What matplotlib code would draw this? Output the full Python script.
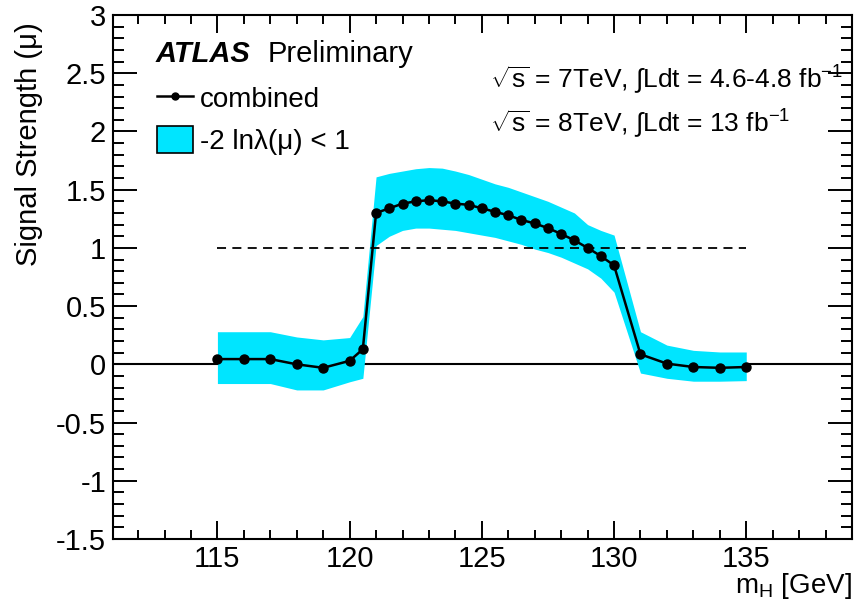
import matplotlib

matplotlib.use("Agg")
import matplotlib.pyplot as plt
from matplotlib.lines import Line2D
from matplotlib.patches import Patch
from matplotlib.ticker import MultipleLocator

# Higgs mass hypotheses and best-fit signal strength
mass = [115, 116, 117, 118, 119, 120,
        120.5, 121, 121.5, 122, 122.5, 123, 123.5, 124, 124.5, 125,
        125.5, 126, 126.5, 127, 127.5, 128, 128.5, 129, 129.5, 130,
        131, 132, 133, 134, 135]
mu = [0.045, 0.045, 0.045, 0.0, -0.03, 0.03,
      0.13, 1.30, 1.34, 1.38, 1.40, 1.41, 1.40, 1.38, 1.37, 1.34,
      1.31, 1.28, 1.24, 1.21, 1.17, 1.12, 1.065, 1.00, 0.93, 0.85,
      0.086, 0.006, -0.023, -0.03, -0.023]

# -2 ln lambda(mu) < 1 interval
mu_hi = [0.28, 0.28, 0.28, 0.235, 0.21, 0.23,
         0.41, 1.61, 1.64, 1.66, 1.68, 1.69, 1.685, 1.66, 1.63, 1.59,
         1.55, 1.52, 1.48, 1.44, 1.40, 1.35, 1.30, 1.20, 1.15, 1.11,
         0.28, 0.165, 0.12, 0.106, 0.106]
mu_lo = [-0.165, -0.165, -0.165, -0.22, -0.22, -0.15,
         -0.12, 1.02, 1.10, 1.15, 1.17, 1.17, 1.16, 1.15, 1.13, 1.11,
         1.09, 1.06, 1.03, 0.99, 0.96, 0.92, 0.87, 0.82, 0.74, 0.62,
         -0.075, -0.12, -0.145, -0.145, -0.14]

x_ticks = [115, 120, 125, 130, 135]
y_ticks = [-1.5, -1, -0.5, 0, 0.5, 1, 1.5, 2, 2.5, 3]
y_tick_labels = ["-1.5", "-1", "-0.5", "0", "0.5", "1", "1.5", "2", "2.5", "3"]

BAND = "#00e5ff"

plt.rcParams["font.family"] = ["Liberation Sans", "DejaVu Sans"]
plt.rcParams["mathtext.fontset"] = "custom"
plt.rcParams["mathtext.rm"] = "Liberation Sans"
plt.rcParams["mathtext.it"] = "Liberation Sans:italic"
plt.rcParams["mathtext.bf"] = "Liberation Sans:bold"

fig = plt.figure(figsize=(8.65, 6.01), dpi=100)
ax = fig.add_axes([0.1306, 0.1032, 0.8544, 0.8718])

ax.axhline(0, color="black", lw=1.5, zorder=1)
ax.fill_between(mass, mu_lo, mu_hi, color=BAND, lw=0, zorder=2)
ax.hlines(1, mass[0], mass[-1], colors="black", linestyles=(0, (5, 3.5)),
          lw=1.3, zorder=3)
ax.plot(mass, mu, color="black", lw=1.8, marker="o", ms=6.5, zorder=4)

ax.set_xlim(111.05, 139)
ax.set_ylim(-1.5, 3)
ax.set_xticks(x_ticks)
ax.set_yticks(y_ticks)
ax.set_yticklabels(y_tick_labels)
ax.xaxis.set_minor_locator(MultipleLocator(1))
ax.yaxis.set_minor_locator(MultipleLocator(0.1))
ax.tick_params(which="both", direction="in", top=True, right=True,
               width=1.4, labelsize=21)
ax.tick_params(axis="x", which="major", length=13, pad=4)
ax.tick_params(axis="x", which="minor", length=6.5)
ax.tick_params(axis="y", which="major", length=17, pad=5)
ax.tick_params(axis="y", which="minor", length=8)
for side in ax.spines.values():
    side.set_linewidth(1.5)

ax.set_ylabel("Signal Strength (μ)", fontsize=21, ha="right")
ax.yaxis.set_label_coords(-0.095, 0.987)
ax.set_xlabel(r"m$_\mathrm{H}$ [GeV]", fontsize=20, ha="right", va="baseline")
ax.xaxis.set_label_coords(1.0, -0.103)

ax.text(0.057, 0.911, "ATLAS", transform=ax.transAxes, fontsize=21,
        fontweight="bold", fontstyle="italic", va="baseline")
ax.text(0.2097, 0.911, "Preliminary", transform=ax.transAxes, fontsize=21,
        va="baseline")

ax.text(0.510, 0.860,
        r"$\sqrt{\mathrm{s}}$ = 7TeV, $\int$Ldt = 4.6-4.8 fb$^{\mathrm{-1}}$",
        transform=ax.transAxes, fontsize=19, va="baseline")
ax.text(0.510, 0.777,
        r"$\sqrt{\mathrm{s}}$ = 8TeV, $\int$Ldt = 13 fb$^{\mathrm{-1}}$",
        transform=ax.transAxes, fontsize=19, va="baseline")

handles = [
    Line2D([], [], color="black", lw=1.8, marker="o", ms=5),
    Patch(facecolor=BAND, edgecolor="black", lw=1.2),
]
ax.legend(handles, ["combined", "-2 lnλ(μ) < 1"], loc="upper left",
          bbox_to_anchor=(0.0595, 0.868), frameon=False, fontsize=20,
          handlelength=1.3, handleheight=1.15, handletextpad=0.25,
          labelspacing=0.45, borderpad=0, borderaxespad=0)

fig.savefig("out.png", dpi=100)
